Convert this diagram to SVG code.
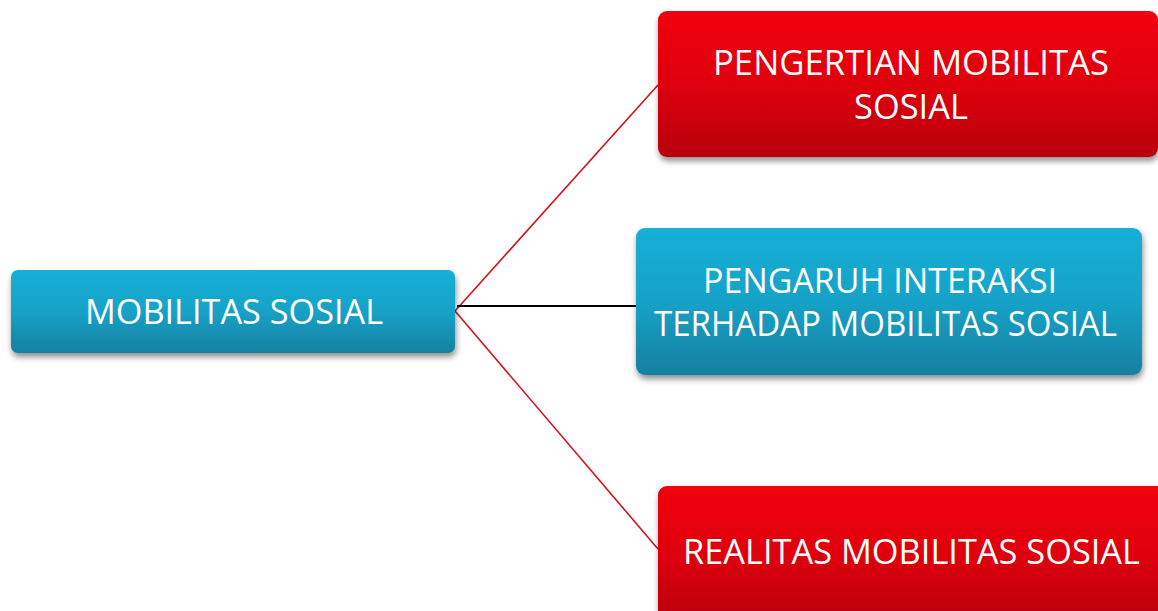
<svg xmlns="http://www.w3.org/2000/svg" width="1158" height="611" viewBox="0 0 1158 611">
<defs>
<linearGradient id="gBlue" x1="0" y1="0" x2="0" y2="1">
<stop offset="0" stop-color="#17afd7"/>
<stop offset="0.5" stop-color="#16a2c8"/>
<stop offset="1" stop-color="#12809f"/>
</linearGradient>
<linearGradient id="gRed" x1="0" y1="0" x2="0" y2="1">
<stop offset="0" stop-color="#f2020e"/>
<stop offset="0.5" stop-color="#de000c"/>
<stop offset="1" stop-color="#b8000a"/>
</linearGradient>
<filter id="sh" x="-10%" y="-20%" width="120%" height="150%">
<feGaussianBlur in="SourceAlpha" stdDeviation="3"/>
<feOffset dx="1" dy="4" result="b"/>
<feComponentTransfer><feFuncA type="linear" slope="0.45"/></feComponentTransfer>
<feMerge><feMergeNode/><feMergeNode in="SourceGraphic"/></feMerge>
</filter>
</defs>
<style>
.t{font-family:"Open Sans","Liberation Sans",sans-serif;fill:#fff;text-anchor:middle;font-size:35px}
.red{stroke:#d4121e;stroke-width:1.6;fill:none}
.blk{stroke:#000;stroke-width:1.8;fill:none}
</style>
<rect width="1158" height="611" fill="#fff"/>
<g id="connectors">
<line class="red" x1="455" y1="311" x2="658" y2="85"/>
<line class="red" x1="455" y1="311" x2="658" y2="549"/>
<line class="blk" x1="457" y1="306" x2="636" y2="306"/>
</g>
<g id="n0">
<rect x="11" y="270" width="444" height="83" rx="7" fill="url(#gBlue)" filter="url(#sh)"/>
<text class="t" x="234" y="324" textLength="298" lengthAdjust="spacingAndGlyphs">MOBILITAS SOSIAL</text>
</g>
<g id="n1">
<rect x="658" y="11" width="500" height="146" rx="9" fill="url(#gRed)" filter="url(#sh)"/>
<text class="t" x="911" y="75" textLength="396" lengthAdjust="spacingAndGlyphs">PENGERTIAN MOBILITAS</text>
<text class="t" x="911" y="119" textLength="114" lengthAdjust="spacingAndGlyphs">SOSIAL</text>
</g>
<g id="n2">
<rect x="636" y="228" width="506" height="147" rx="9" fill="url(#gBlue)" filter="url(#sh)"/>
<text class="t" x="880" y="293" textLength="354" lengthAdjust="spacingAndGlyphs">PENGARUH INTERAKSI</text>
<text class="t" x="885.5" y="336" textLength="463" lengthAdjust="spacingAndGlyphs">TERHADAP MOBILITAS SOSIAL</text>
</g>
<g id="n3">
<rect x="658" y="486" width="510" height="140" rx="9" fill="url(#gRed)" filter="url(#sh)"/>
<text class="t" x="911.5" y="564" textLength="457" lengthAdjust="spacingAndGlyphs">REALITAS MOBILITAS SOSIAL</text>
</g>
</svg>
